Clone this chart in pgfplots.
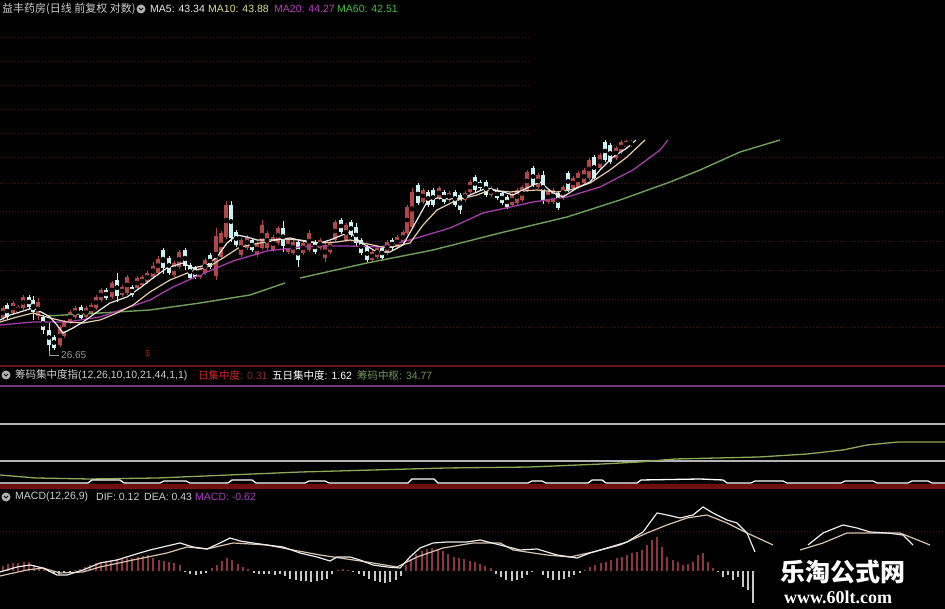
\documentclass[border=0pt]{standalone}
\usepackage{pgfplots}
\pgfplotsset{compat=1.18}
\usepackage{pgfplotstable}
\usepackage{fontspec}
\setmainfont{Liberation Sans}
\newfontfamily\cjk{Noto Sans CJK SC}
\newfontfamily\wmserif{Liberation Serif}
\definecolor{upred}{RGB}{176,72,72}
\definecolor{dncyan}{RGB}{205,240,240}
\definecolor{ma5c}{RGB}{235,235,235}
\definecolor{ma10c}{RGB}{230,205,170}
\definecolor{ma20c}{RGB}{165,60,170}
\definecolor{ma60c}{RGB}{110,160,90}
\definecolor{tma10}{RGB}{225,220,150}
\definecolor{tma20}{RGB}{190,60,190}
\definecolor{tma60}{RGB}{70,190,70}
\definecolor{gridred}{RGB}{85,22,22}
\definecolor{sepred}{RGB}{110,20,20}
\definecolor{purp}{RGB}{120,50,120}
\definecolor{lgray}{RGB}{180,180,180}
\definecolor{chipgreen}{RGB}{140,170,90}
\definecolor{chipred}{RGB}{110,15,15}
\definecolor{barred}{RGB}{140,55,60}
\definecolor{barwhite}{RGB}{200,200,200}
\definecolor{difc}{RGB}{235,235,235}
\definecolor{deac}{RGB}{215,195,175}
\definecolor{tgray}{RGB}{205,205,205}
\definecolor{tmag}{RGB}{170,60,190}
\definecolor{tgreen}{RGB}{110,150,90}
\definecolor{tred}{RGB}{210,40,40}
\definecolor{tdred}{RGB}{130,45,45}

% candles: pixel rows (y grows downwards); hi/lo = wick, top/bot = body
\pgfplotstableread{
x hi lo top bot
3 306 320 308 318
13 301 315 303 313
18 305 314 307 312
23 295 310 297 308
38 298 320 302 316
60 325 347 327 345
64 320 338 322 336
70 310 324 312 322
75 306 319 308 317
86 306 319 308 317
91 303 315 305 313
96 295 310 297 308
101 288 302 290 300
112 281 299 283 297
122 285 297 287 295
127 275 295 277 293
137 276 290 278 288
142 275 287 277 285
147 271 284 273 282
153 262 279 266 277
158 256 275 259 273
174 261 277 263 275
179 250 269 252 267
200 266 279 268 277
205 258 275 260 273
216 228 280 236 276
221 231 259 233 257
226 201 239 205 237
241 238 257 240 255
247 235 250 237 248
257 241 257 243 255
262 220 250 225 248
267 231 250 233 248
273 235 252 237 250
278 226 245 228 243
288 238 254 240 252
293 240 255 242 253
303 241 255 243 253
309 230 252 233 250
320 238 250 240 248
325 243 262 245 258
330 241 254 243 252
335 220 242 222 240
346 223 242 225 240
372 250 262 252 260
377 246 259 248 257
387 240 255 242 253
397 235 249 237 247
403 230 245 232 243
407 205 235 207 233
412 188 229 192 227
423 188 204 190 202
439 186 200 188 198
449 191 202 193 200
465 191 202 193 200
470 180 194 182 192
491 186 197 188 195
512 193 207 195 205
517 188 205 190 203
522 185 202 187 200
527 170 192 172 190
538 173 189 175 187
548 190 204 192 202
553 188 204 190 202
563 185 200 187 198
573 176 190 178 188
578 171 189 173 187
584 168 185 170 183
589 158 180 160 178
600 153 170 155 168
616 146 160 148 158
621 140 154 142 152
626 140 149 141 147
631 140 147 141 145
}\upc
\pgfplotstableread{
x hi lo top bot
7 303 319 305 317
29 295 309 297 307
33 296 320 300 312
43 315 334 317 330
49 323 352 330 345
54 335 350 337 348
81 305 320 307 318
106 288 300 290 298
117 273 302 280 296
132 285 297 287 295
163 248 274 250 268
169 256 275 258 273
185 248 270 250 266
190 263 280 265 278
195 266 279 268 277
210 253 269 255 267
231 201 242 205 238
236 230 247 232 245
252 238 252 240 250
283 221 252 228 246
298 240 267 242 260
315 240 254 242 252
341 218 234 220 232
351 220 237 222 235
356 223 247 227 243
361 238 255 240 253
367 245 262 247 260
382 246 260 248 258
392 238 250 240 248
418 183 205 185 203
428 190 207 192 205
433 188 207 190 205
444 190 204 192 202
455 190 207 192 205
460 193 214 195 210
475 175 192 177 190
480 180 190 182 188
486 180 197 182 195
497 188 200 190 198
502 191 205 193 203
507 195 209 197 207
533 166 187 168 185
543 171 204 175 200
558 191 210 193 208
568 171 192 173 190
594 155 180 157 178
605 140 162 142 160
610 143 164 145 162
}\dnc

\pgfplotsset{
  panel/.style={scale only axis, width=945pt, xmin=0, xmax=945, hide axis, anchor=south west, clip=true},
  wick/.style={only marks, mark=none, forget plot, error bars/.cd, y dir=both, y explicit, error mark=none, error bar style={line width=1pt, draw=#1}},
  body/.style={only marks, mark=none, forget plot, error bars/.cd, y dir=both, y explicit, error mark=none, error bar style={line width=4pt, draw=#1}},
}

\begin{document}
\begin{tikzpicture}
\fill[black] (0,0) rectangle (945pt,609pt);

% ---------------- price panel ----------------
\begin{axis}[panel, at={(0,244pt)}, height=365pt, ymin=0, ymax=365, y dir=reverse]
\foreach \g in {38,62,86,110,134}{\edef\tmp{\noexpand\draw[gridred, line width=1pt, dash pattern=on 1pt off 2pt] (axis cs:0,\g) -- (axis cs:530,\g);}\tmp}
\foreach \g in {158,184,212,242,271,300,328}{\edef\tmp{\noexpand\draw[gridred, line width=1pt, dash pattern=on 1pt off 2pt] (axis cs:0,\g) -- (axis cs:945,\g);}\tmp}
\addplot[wick=upred] table[x=x, y expr={(\thisrow{hi}+\thisrow{lo})/2}, y error expr={(\thisrow{lo}-\thisrow{hi})/2}] {\upc};
\addplot[body=upred] table[x=x, y expr={(\thisrow{top}+\thisrow{bot})/2}, y error expr={(\thisrow{bot}-\thisrow{top})/2}] {\upc};
\addplot[wick=dncyan] table[x=x, y expr={(\thisrow{hi}+\thisrow{lo})/2}, y error expr={(\thisrow{lo}-\thisrow{hi})/2}] {\dnc};
\addplot[body=dncyan] table[x=x, y expr={(\thisrow{top}+\thisrow{bot})/2}, y error expr={(\thisrow{bot}-\thisrow{top})/2}] {\dnc};
% MA60
\addplot[ma60c, line width=1.4pt] coordinates {(47,316) (100,313) (150,310) (200,303) (250,295) (285,283)};
\addplot[ma60c, line width=1.4pt] coordinates {(300,278) (367,263) (433,250) (500,233) (567,217) (620,200) (670,182) (700,170) (740,152) (780,140)};
% MA20
\addplot[ma20c, line width=1.3pt] coordinates {(0,325) (33,322) (67,322) (100,317) (127,308) (150,300) (173,287) (200,275) (233,261) (267,251) (300,247) (320,246) (350,246) (380,247) (410,240) (450,228) (483,213) (533,202) (567,197) (600,187) (633,170) (660,150) (668,140)};
% MA10
\addplot[ma10c, line width=1.2pt] coordinates {(0,322) (17,317) (33,313) (50,318) (67,322) (83,323) (100,320) (117,313) (133,305) (150,292) (170,280) (190,272) (210,266) (223,258) (240,247) (260,243) (283,239) (300,240) (320,243) (337,242) (350,240) (363,243) (387,248) (410,243) (423,225) (437,210) (457,200) (477,195) (490,190) (510,192) (537,190) (557,192) (570,190) (590,183) (610,170) (627,157) (645,140)};
% MA5
\addplot[ma5c, line width=1.2pt] coordinates {(0,320) (10,315) (20,312) (33,308) (43,313) (50,317) (57,325) (63,333) (73,328) (83,322) (97,312) (110,303) (127,297) (140,288) (153,278) (167,268) (183,263) (193,268) (207,265) (217,257) (227,243) (237,235) (247,237) (257,240) (273,240) (290,238) (307,242) (320,243) (330,240) (350,232) (360,242) (377,252) (390,252) (403,245) (417,220) (427,202) (437,198) (450,199) (463,198) (477,192) (487,188) (503,192) (513,195) (527,188) (540,182) (553,193) (563,197) (577,188) (590,182) (600,170) (613,157) (627,148) (636,140)};
\end{axis}

% ---------------- chip panel ----------------
\begin{axis}[panel, at={(0,122pt)}, height=122pt, ymin=365, ymax=487, y dir=reverse]
\draw[purp, line width=2pt] (axis cs:0,386) -- (axis cs:945,386);
\draw[lgray, line width=2pt] (axis cs:0,424) -- (axis cs:945,424);
\draw[lgray, line width=2pt] (axis cs:0,461) -- (axis cs:945,461);
\addplot[chipgreen, line width=1.3pt] coordinates {(0,475) (36,478) (90,479) (157,478) (229,475) (301,472) (373,470) (446,468) (530,467) (602,464) (639,462) (675,459) (759,457) (807,454) (843,450) (867,445) (898,442) (945,442)};
\addplot[chipred, line width=6pt] coordinates {(0,487) (945,487)};
\addplot[white, line width=1.3pt] coordinates {(0,483) (88,483) (92,480) (120,480) (124,483) (160,483) (164,481) (186,481) (190,483) (228,483) (232,480) (252,480) (256,483) (305,483) (309,481) (325,481) (329,483) (408,483) (412,479) (434,479) (438,483) (528,483) (532,481) (542,481) (546,483) (588,483) (592,480) (602,480) (606,483) (637,483) (641,480) (700,479) (723,480) (727,483) (751,483) (755,481) (783,481) (787,483) (841,483) (845,481) (873,481) (877,483) (908,483) (912,481) (928,481) (932,483) (945,483)};
\end{axis}

% ---------------- MACD panel ----------------
\begin{axis}[panel, at={(0,0)}, height=122pt, ymin=-38, ymax=84]
\draw[gridred, line width=1pt, dash pattern=on 1pt off 2pt] (axis cs:0,39) -- (axis cs:945,39);
\addplot[ycomb, barred, line width=1.3pt] coordinates {
(3,5) (8,7) (13,8) (18,8) (24,9) (29,9) (34,6) (39,4) (44,2)
(75,1) (80,2) (85,4) (90,6) (96,8) (101,9) (106,10) (111,11) (117,12) (122,12) (127,13) (132,13) (138,14) (143,15) (148,16) (153,13) (159,11) (164,10) (169,9) (174,8) (180,6)
(212,3) (217,6) (222,10) (227,13) (232,11) (238,7) (243,4) (248,2)
(338,1) (343,2) (348,1)
(406,6) (411,12) (416,17) (422,20) (427,22) (432,23) (438,22) (443,20) (448,17) (454,14) (459,13) (464,12) (470,10) (475,9) (480,7) (485,5) (491,3)
(585,1) (590,4) (595,6) (601,8) (606,9) (611,11) (617,13) (622,14) (627,16) (632,18) (637,19) (642,21) (647,26) (652,31) (657,34) (662,24) (667,14) (673,11) (678,9) (683,6) (688,7) (693,9) (698,16) (703,18) (708,9) (713,3)};
\addplot[ycomb, barwhite, line width=1.3pt] coordinates {
(49,-1) (54,-2) (59,-3) (64,-2) (70,-1)
(185,-1) (190,-3) (196,-4) (201,-3) (206,-2)
(254,-2) (259,-3) (264,-3) (269,-3) (275,-4) (280,-3) (285,-5) (290,-8) (296,-9) (301,-10) (306,-10) (311,-11) (317,-10) (322,-9) (327,-8) (332,-3)
(353,-1) (359,-3) (364,-5) (369,-8) (375,-10) (380,-11) (385,-12) (390,-11) (396,-9) (401,-5)
(496,-3) (501,-6) (506,-9) (512,-10) (517,-9) (522,-7) (527,-4) (532,-1)
(543,-4) (548,-7) (553,-9) (559,-9) (564,-8) (569,-6) (574,-4) (580,-2)
(718,-1) (723,-6) (728,-4) (733,-9) (738,-6) (743,-16) (748,-19) (753,-32)};
% DEA
\addplot[deac, line width=1.2pt] coordinates {(0,-5) (27,1) (43,3) (60,-2) (83,-1) (100,4) (133,11) (167,18) (187,24) (207,22) (233,28) (267,26) (293,21) (320,16) (340,13) (367,9) (397,4) (417,14) (443,23) (473,28) (500,28) (513,21) (547,16) (570,14) (593,19) (620,26) (647,38) (667,46) (687,53) (707,56) (727,48) (747,38) (773,26)};
\addplot[deac, line width=1.2pt] coordinates {(800,21) (823,28) (847,38) (873,38) (900,38) (930,26)};
% DIF
\addplot[difc, line width=1.2pt] coordinates {(0,-1) (17,4) (30,6) (43,3) (57,-4) (67,-4) (83,1) (100,8) (117,11) (133,16) (150,21) (167,25) (180,28) (193,24) (207,22) (220,28) (230,33) (240,30) (253,28) (267,26) (283,24) (300,18) (317,14) (330,10) (337,14) (350,14) (360,11) (373,6) (387,4) (400,3) (410,14) (420,23) (433,28) (447,29) (467,29) (480,31) (500,26) (520,21) (537,22) (557,16) (577,13) (590,18) (607,23) (627,29) (643,39) (657,58) (667,56) (680,53) (693,56) (703,64) (713,58) (727,51) (737,48) (747,38) (755,19)};
\addplot[difc, line width=1.2pt] coordinates {(808,26) (823,38) (843,46) (857,43) (870,39) (887,38) (903,36) (913,26)};
\end{axis}

% separators
\draw[sepred, line width=1.5pt] (0,243pt) -- (945pt,243pt);
\draw[sepred, line width=1.5pt] (0,121pt) -- (945pt,121pt);

% ---------------- titles ----------------
\tikzset{ttl/.style={anchor=west, inner sep=0pt, font=\fontsize{10.5}{12}\selectfont}}
\node[ttl, text=tgray, font=\cjk\fontsize{11}{12}\selectfont] at (2pt,600pt) {益丰药房(日线 前复权 对数)};
\fill[gray!60] (141pt,600pt) circle (4.5pt);
\draw[black, line width=0.8pt] (139pt,601pt) -- (141pt,599pt) -- (143pt,601pt);
\node[ttl, text=ma5c] at (150pt,600pt) {MA5: 43.34};
\node[ttl, text=tma10] at (208pt,600pt) {MA10: 43.88};
\node[ttl, text=tma20] at (274pt,600pt) {MA20: 44.27};
\node[ttl, text=tma60] at (337pt,600pt) {MA60: 42.51};

\fill[gray!60] (6pt,234pt) circle (4.5pt);
\draw[black, line width=0.8pt] (4pt,235pt) -- (6pt,233pt) -- (8pt,235pt);
\node[ttl, text=tgray] at (15pt,234pt) {{\cjk 筹码集中度指}(12,26,10,10,21,44,1,1)};
\node[ttl, text=tred] at (198pt,234pt) {{\cjk 日集中度}: \textcolor{tdred}{0.31}};
\node[ttl, text=white] at (272pt,234pt) {{\cjk 五日集中度}: 1.62};
\node[ttl, text=tgreen] at (357pt,234pt) {{\cjk 筹码中枢}: 34.77};

\fill[gray!60] (6pt,112pt) circle (4.5pt);
\draw[black, line width=0.8pt] (4pt,113pt) -- (6pt,111pt) -- (8pt,113pt);
\node[ttl, text=tgray] at (15pt,112pt) {MACD(12,26,9)};
\node[ttl, text=tgray] at (96pt,112pt) {DIF: 0.12};
\node[ttl, text=tgray] at (144pt,112pt) {DEA: 0.43};
\node[ttl, text=tmag] at (195pt,112pt) {MACD: -0.62};

% low annotation
\draw[gray!80, line width=0.8pt] (49pt,258pt) -- (49pt,254pt) -- (59pt,254pt);
\node[ttl, text=gray!80, font=\fontsize{10}{11}\selectfont] at (61pt,254pt) {26.65};
\node[ttl, text=red!80!black, font=\fontsize{9}{10}\selectfont] at (145pt,256pt) {\$};

% watermark
\node[anchor=west, inner sep=0pt, text=white, font=\cjk\bfseries\fontsize{25}{27}\selectfont] at (780pt,37pt) {乐淘公式网};
\node[anchor=west, inner sep=0pt, text=white, font=\wmserif\bfseries\fontsize{18}{20}\selectfont] at (784pt,12pt) {www.60lt.com};

\pgfresetboundingbox
\path[use as bounding box] (0,0) rectangle (945pt,609pt);
\end{tikzpicture}
\end{document}
